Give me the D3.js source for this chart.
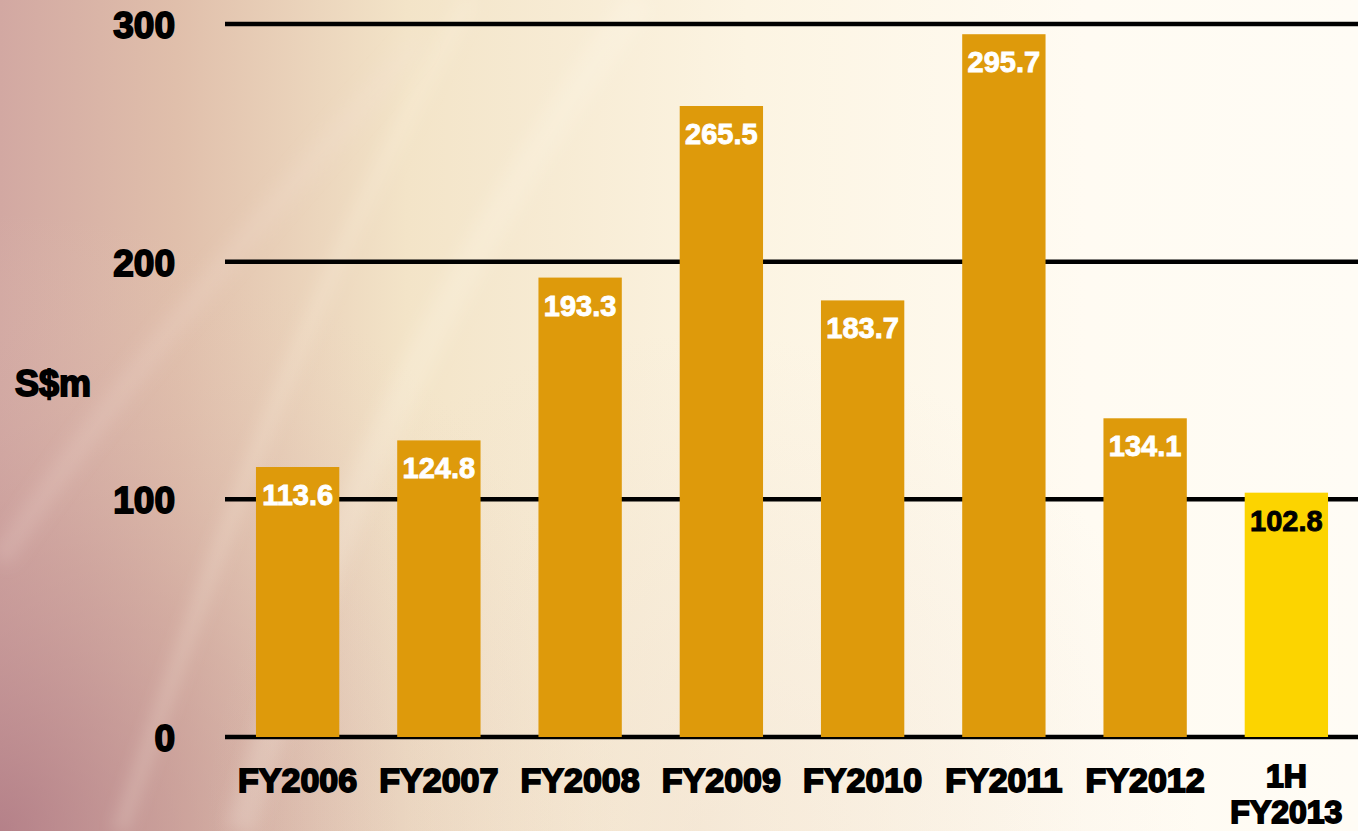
<!DOCTYPE html>
<html>
<head>
<meta charset="utf-8">
<script src="https://cdn.jsdelivr.net/npm/d3@7"></script>
<style>
  html, body { margin: 0; padding: 0; background: #fdf8ee; }
  svg { display: block; }
</style>
</head>
<body>
<svg id="chart" width="1358" height="831"></svg>
<script>
// ---- data ----
const categories = ["FY2006", "FY2007", "FY2008", "FY2009", "FY2010", "FY2011", "FY2012", "1H FY2013"];
const values = [113.6, 124.8, 193.3, 265.5, 183.7, 295.7, 134.1, 102.8];
const highlight = [false, false, false, false, false, false, false, true];
const yTicks = [0, 100, 200, 300];
const yUnit = "S$m";

const W = 1358, H = 831;
const svg = d3.select("#chart");
const defs = svg.append("defs");

// ---- background ----
const bg = defs.append("linearGradient").attr("id", "bgH").attr("x1", 0).attr("x2", 1).attr("y1", 0).attr("y2", 0);
[[0, "#d2a8a2"], [0.13, "#e0bfab"], [0.3, "#f3e4c8"], [0.55, "#fcf4e2"], [0.8, "#fffbf2"], [1, "#fffcf5"]]
  .forEach(([o, c]) => bg.append("stop").attr("offset", o).attr("stop-color", c));
const rg = defs.append("radialGradient").attr("id", "bgR").attr("gradientUnits", "userSpaceOnUse")
  .attr("cx", 0).attr("cy", 831).attr("r", 620);
[[0, "#a8707e", 0.7], [0.45, "#bf8f92", 0.38], [1, "#e8cdbf", 0]]
  .forEach(([o, c, a]) => rg.append("stop").attr("offset", o).attr("stop-color", c).attr("stop-opacity", a));
const rg2 = defs.append("radialGradient").attr("id", "bgR2").attr("gradientUnits", "userSpaceOnUse")
  .attr("cx", 700).attr("cy", 831).attr("r", 500);
[[0, "#ead5c5", 0.35], [1, "#ead5c5", 0]]
  .forEach(([o, c, a]) => rg2.append("stop").attr("offset", o).attr("stop-color", c).attr("stop-opacity", a));
defs.append("filter").attr("id", "blur").append("feGaussianBlur").attr("stdDeviation", 8);

svg.append("rect").attr("width", W).attr("height", H).attr("fill", "url(#bgH)");
svg.append("rect").attr("width", W).attr("height", H).attr("fill", "url(#bgR)");
svg.append("rect").attr("width", W).attr("height", H).attr("fill", "url(#bgR2)");
// soft light swooshes
svg.append("path").attr("d", "M120,831 C200,600 300,300 470,0")
  .attr("fill", "none").attr("stroke", "#fff6e6").attr("stroke-opacity", 0.22).attr("stroke-width", 14).attr("filter", "url(#blur)");
svg.append("path").attr("d", "M0,560 C120,380 260,220 420,40")
  .attr("fill", "none").attr("stroke", "#f6e2d6").attr("stroke-opacity", 0.18).attr("stroke-width", 22).attr("filter", "url(#blur)");
svg.append("path").attr("d", "M240,831 C320,560 420,300 640,0")
  .attr("fill", "none").attr("stroke", "#fffaf0").attr("stroke-opacity", 0.2).attr("stroke-width", 30).attr("filter", "url(#blur)");

// ---- scales ----
const x = d3.scaleBand().domain(categories).range([227, 1357]).paddingInner(0.41).paddingOuter(0.205);
const y = d3.scaleLinear().domain([0, 300]).range([737, 24]);

const font = "'Liberation Sans', Arial, sans-serif";

// ---- gridlines ----
svg.append("g").selectAll("line").data(yTicks).join("line")
  .attr("x1", 225).attr("x2", W)
  .attr("y1", d => y(d)).attr("y2", d => y(d))
  .attr("stroke", "#000").attr("stroke-width", 4.5);

// ---- y tick labels ----
svg.append("g").selectAll("text").data(yTicks).join("text")
  .attr("x", 175).attr("y", d => y(d) + 14)
  .attr("text-anchor", "end")
  .attr("font-family", font).attr("font-weight", "bold").attr("font-size", 37)
  .attr("stroke", "#000").attr("stroke-width", 1.8)
  .attr("fill", "#000").text(d => d);

// unit label
svg.append("text").attr("x", 15).attr("y", 396)
  .attr("font-family", font).attr("font-weight", "bold").attr("font-size", 36)
  .attr("stroke", "#000").attr("stroke-width", 1.8)
  .attr("fill", "#000").text(yUnit);

// ---- bars ----
const data = categories.map((c, i) => ({ c, v: values[i], h: highlight[i] }));
svg.append("g").selectAll("rect").data(data).join("rect")
  .attr("x", d => x(d.c)).attr("width", x.bandwidth())
  .attr("y", d => y(d.v)).attr("height", d => y(0) - y(d.v))
  .attr("fill", d => d.h ? "#fcd400" : "#de9a0b");

// value labels
svg.append("g").selectAll("text").data(data).join("text")
  .attr("x", d => x(d.c) + x.bandwidth() / 2)
  .attr("y", d => y(d.v) + 38)
  .attr("text-anchor", "middle")
  .attr("font-family", font).attr("font-weight", "bold").attr("font-size", 29)
  .attr("fill", d => d.h ? "#000" : "#fff")
  .attr("stroke", d => d.h ? "#000" : "#fff").attr("stroke-width", 0.9)
  .text(d => d.v.toFixed(1));

// ---- x labels (one text element per line) ----
const lines = [];
data.forEach(d => {
  const parts = d.c.split(" ");
  parts.forEach((p, i) => lines.push({ c: d.c, t: p, i, multi: parts.length > 1 }));
});
svg.append("g").selectAll("text").data(lines).join("text")
  .attr("x", d => x(d.c) + x.bandwidth() / 2)
  .attr("y", d => d.multi ? 787 + d.i * 36 : 792)
  .attr("text-anchor", "middle")
  .attr("font-family", font).attr("font-weight", "bold")
  .attr("font-size", d => d.multi ? 32 : 34)
  .attr("stroke", "#000").attr("stroke-width", 1.8)
  .attr("fill", "#000")
  .text(d => d.t);
</script>
</body>
</html>
